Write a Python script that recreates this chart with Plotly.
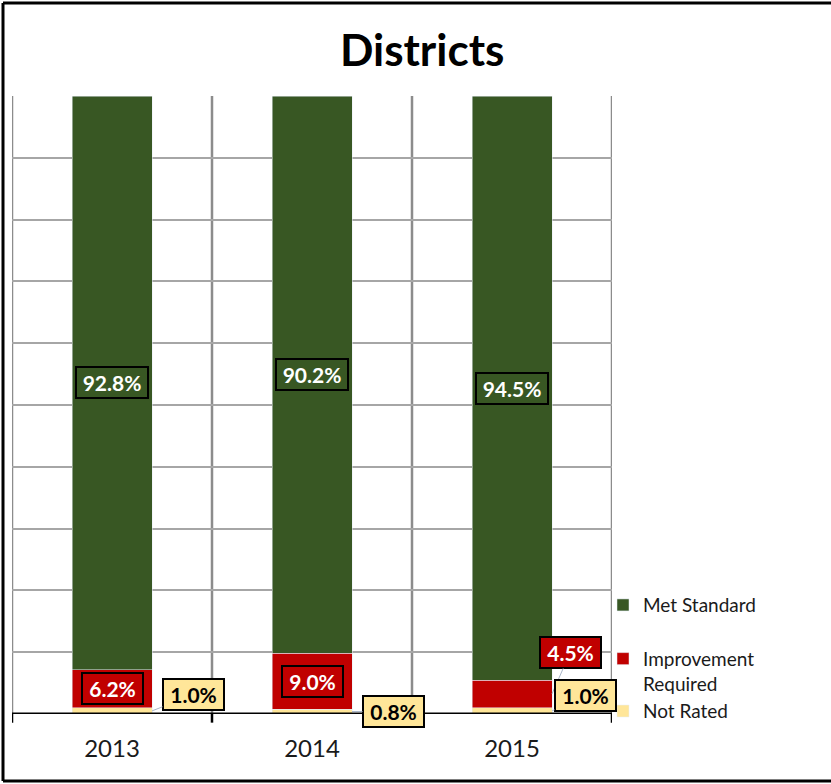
import plotly.graph_objects as go

# Accountability ratings for districts, share of districts per year (%)
years = ["2013", "2014", "2015"]
met_standard = [92.8, 90.2, 94.5]
improvement_required = [6.2, 9.0, 4.5]
not_rated = [1.0, 0.8, 1.0]

GREEN = "#385723"
RED = "#c00000"
YELLOW = "#ffe699"
FONT = "Lato"

fig = go.Figure()
fig.add_trace(go.Bar(x=years, y=not_rated, name="Not Rated", marker_color=YELLOW,
                     width=0.4, legendgroup="b", legendrank=3))
fig.add_trace(go.Bar(x=years, y=improvement_required, name="Improvement<br>Required",
                     marker_color=RED, width=0.4, legendgroup="b", legendrank=2))
fig.add_trace(go.Bar(x=years, y=met_standard, name="Met Standard", marker_color=GREEN,
                     width=0.4, legendgroup="a", legendrank=1))

annotations = []


def box_label(xi, y, text, bg, fg, ax=None, ay=None):
    a = dict(x=xi, y=y, xref="x", yref="y", text=f"<b>{text}</b>",
             font=dict(family=FONT, size=21, color=fg),
             bgcolor=bg, bordercolor="black", borderwidth=2, borderpad=3,
             width=9 + 11 * len(text), height=23)
    if ax is None:
        a["showarrow"] = False
    else:
        a.update(showarrow=True, arrowhead=0, arrowwidth=1, arrowcolor="#a9b6c8",
                 ax=ax, ay=ay, axref="pixel", ayref="pixel")
    annotations.append(a)


# leader-line offsets (px) for labels placed beside the bars
not_rated_offsets = [(41, -16), (41, 0), (33, -15)]

for i, yr in enumerate(years):
    nr, ir, ms = not_rated[i], improvement_required[i], met_standard[i]
    box_label(i, nr + ir + ms / 2, f"{ms:.1f}%", GREEN, "white")
    if i == 2:
        box_label(i + 0.2, nr + ir / 2, f"{ir:.1f}%", RED, "white", ax=18, ay=-41)
    else:
        box_label(i, nr + ir / 2, f"{ir:.1f}%", RED, "white")
    box_label(i + 0.2, nr / 2, f"{nr:.1f}%", YELLOW, "black",
              ax=not_rated_offsets[i][0], ay=not_rated_offsets[i][1])

shapes = []
# vertical grid lines at category boundaries
for xb in [-0.5, 0.5, 1.5, 2.5]:
    shapes.append(dict(type="line", xref="x", yref="paper", x0=xb, x1=xb, y0=0, y1=1,
                       line=dict(color="#8c8c8c", width=2.5), layer="below"))
    # tick marks below the axis
    shapes.append(dict(type="line", xref="x", yref="paper", x0=xb, x1=xb, y0=0, y1=-0.014,
                       line=dict(color="black", width=2.5), layer="above"))
# axis base line
shapes.append(dict(type="line", xref="paper", yref="y", x0=0, x1=1, y0=0, y1=0,
                   line=dict(color="black", width=3), layer="above"))
# outer frame of the chart: left, top and bottom edges, running to the page's right side
frame = dict(color="black", width=3)
fl, ft, fb, fr = -0.015, 1.1505, -0.1084, 1.365
shapes.append(dict(type="line", xref="paper", yref="paper", x0=fl, x1=fl, y0=fb, y1=ft,
                   line=frame, layer="below"))
shapes.append(dict(type="line", xref="paper", yref="paper", x0=fl, x1=fr, y0=ft, y1=ft,
                   line=frame, layer="below"))
shapes.append(dict(type="line", xref="paper", yref="paper", x0=fl, x1=fr, y0=fb, y1=fb,
                   line=frame, layer="below"))

fig.update_layout(
    width=831, height=784,
    margin=dict(l=12, r=219, t=96, b=70),
    paper_bgcolor="white", plot_bgcolor="white",
    barmode="stack",
    title=dict(text="<b>Districts</b>", x=0.508, xanchor="center", y=0.936,
               yanchor="middle", font=dict(family=FONT, size=44, color="black")),
    font=dict(family=FONT, color="#1a1a1a"),
    xaxis=dict(range=[-0.5, 2.5], showgrid=False, showline=False, zeroline=False,
               ticks="outside", ticklen=13, tickcolor="rgba(0,0,0,0)",
               tickfont=dict(family=FONT, size=24, color="#1a1a1a")),
    yaxis=dict(range=[0, 100], dtick=10, showgrid=True, gridcolor="#a6a6a6", gridwidth=2,
               showticklabels=False, zeroline=False, showline=False),
    legend=dict(x=0.985, xanchor="left", y=0.207, yanchor="top",
                traceorder="grouped", tracegroupgap=26, valign="top",
                font=dict(family=FONT, size=19, color="#1a1a1a"),
                bgcolor="rgba(0,0,0,0)"),
    annotations=annotations,
    shapes=shapes,
    bargap=0.6,
)

fig.write_html("out.html")
